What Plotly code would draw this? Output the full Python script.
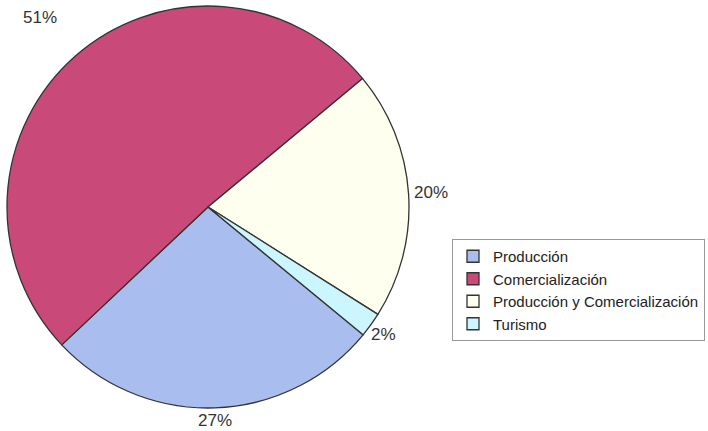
import math
import plotly.graph_objects as go

labels = ["Producción", "Comercialización", "Producción y Comercialización", "Turismo"]
values = [27, 51, 20, 2]
pct_text = ["27%", "51%", "20%", "2%"]
colors = ["#AABDEF", "#C94A78", "#FFFFF0", "#CCF6FF"]

W, H = 708, 431
cx, cy, R = 208, 207, 201
rotation = 129.5
label_r = [214, 253, 223, 217]

fig = go.Figure()
fig.add_trace(go.Pie(
    labels=labels, values=values, sort=False, direction="clockwise",
    rotation=rotation, textinfo="none", hoverinfo="label+percent",
    marker=dict(colors=colors, line=dict(color="#333333", width=1.3)),
    domain=dict(x=[(cx - R) / W, (cx + R) / W], y=[1 - (cy + R) / H, 1 - (cy - R) / H]),
))

total = sum(values)
cum = 0
for v, t, lr in zip(values, pct_text, label_r):
    mid = rotation + (cum + v / 2) / total * 360
    cum += v
    a = math.radians(mid)
    px = cx + lr * math.sin(a)
    py = cy - lr * math.cos(a)
    fig.add_annotation(x=px / W, y=1 - py / H, xref="paper", yref="paper",
                       xanchor="center", yanchor="middle",
                       text=t, showarrow=False,
                       font=dict(family="Liberation Sans, Arial", size=17, color="#333333"))

fig.update_layout(
    width=W, height=H,
    margin=dict(l=0, r=0, t=0, b=0, autoexpand=False),
    paper_bgcolor="white", plot_bgcolor="white",
    showlegend=True,
    legend=dict(x=452 / W, y=1 - 239 / H, xanchor="left", yanchor="top",
                bordercolor="#999999", borderwidth=1, bgcolor="white",
                font=dict(family="Liberation Sans, Arial", size=15, color="#222222"),
                itemwidth=30, tracegroupgap=0),
)

fig.write_html("out.html")
